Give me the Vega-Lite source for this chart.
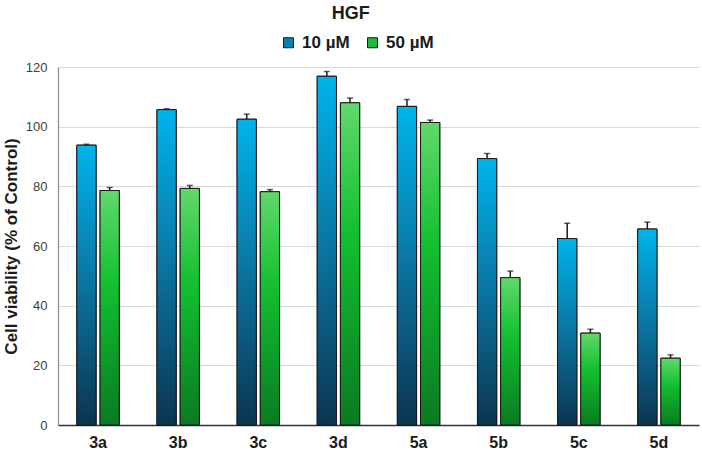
{
  "$schema": "https://vega.github.io/schema/vega-lite/v6.json",
  "width": 702,
  "height": 455,
  "autosize": {"type": "fit", "contains": "padding"},
  "padding": {"left": 2, "right": 3, "top": 5, "bottom": 5},
  "background": "white",
  "title": {
    "text": "HGF",
    "fontSize": 18,
    "fontWeight": "bold",
    "font": "Liberation Sans",
    "color": "#1a1a1a",
    "anchor": "middle",
    "frame": "bounds",
    "offset": 38
  },
  "config": {
    "view": {"stroke": null},
    "font": "Liberation Sans"
  },
  "data": {
    "values": [
      {"compound": "3a", "conc": "10 µM", "value": 93.8, "upper": 94.1},
      {"compound": "3a", "conc": "50 µM", "value": 78.6, "upper": 79.6},
      {"compound": "3b", "conc": "10 µM", "value": 105.7, "upper": 106.0},
      {"compound": "3b", "conc": "50 µM", "value": 79.3, "upper": 80.3},
      {"compound": "3c", "conc": "10 µM", "value": 102.5, "upper": 104.2},
      {"compound": "3c", "conc": "50 µM", "value": 78.2, "upper": 78.9},
      {"compound": "3d", "conc": "10 µM", "value": 116.9, "upper": 118.5},
      {"compound": "3d", "conc": "50 µM", "value": 108.0, "upper": 109.6},
      {"compound": "5a", "conc": "10 µM", "value": 106.8, "upper": 109.1},
      {"compound": "5a", "conc": "50 µM", "value": 101.4, "upper": 102.2},
      {"compound": "5b", "conc": "10 µM", "value": 89.3, "upper": 91.0},
      {"compound": "5b", "conc": "50 µM", "value": 49.4, "upper": 51.6},
      {"compound": "5c", "conc": "10 µM", "value": 62.5, "upper": 67.6},
      {"compound": "5c", "conc": "50 µM", "value": 30.8, "upper": 32.1},
      {"compound": "5d", "conc": "10 µM", "value": 65.7, "upper": 68.0},
      {"compound": "5d", "conc": "50 µM", "value": 22.4, "upper": 23.5}
    ]
  },
  "encoding": {
    "x": {
      "field": "compound",
      "type": "nominal",
      "sort": null,
      "scale": {"paddingInner": 0.47, "paddingOuter": 0.235},
      "axis": {
        "title": null,
        "labelAngle": 0,
        "labelFontSize": 16,
        "labelFontWeight": "bold",
        "labelColor": "#1a1a1a",
        "labelPadding": 9,
        "ticks": false,
        "domainColor": "#333333",
        "domainWidth": 1.5
      }
    },
    "xOffset": {
      "field": "conc",
      "type": "nominal",
      "scale": {"domain": ["10 µM", "50 µM"], "paddingInner": 0.17, "paddingOuter": 0}
    },
    "y": {
      "field": "value",
      "type": "quantitative",
      "scale": {"domain": [0, 120]},
      "axis": {
        "title": "Cell viability (% of Control)",
        "titleFontSize": 17,
        "titleFontWeight": "bold",
        "titleColor": "#1a1a1a",
        "titlePadding": 5,
        "values": [0, 20, 40, 60, 80, 100, 120],
        "labelFontSize": 13,
        "labelColor": "#404040",
        "labelPadding": 11,
        "ticks": false,
        "gridColor": "#d9d9d9",
        "gridWidth": 1,
        "domainColor": "#8c8c8c",
        "domainWidth": 1.2
      }
    }
  },
  "layer": [
    {
      "mark": {"type": "bar", "stroke": "#1a1a1a", "strokeWidth": 1},
      "encoding": {
        "fill": {
          "field": "conc",
          "type": "nominal",
          "scale": {"domain": ["10 µM", "50 µM"], "range": ["#0a80b0", "#22b840"]},
          "legend": {
            "title": null,
            "orient": "none",
            "direction": "horizontal",
            "legendX": 222,
            "legendY": -33,
            "symbolType": "square",
            "symbolSize": 100,
            "symbolStrokeColor": "#1a1a1a",
            "symbolStrokeWidth": 1,
            "symbolOpacity": 1,
            "labelFontSize": 17,
            "labelFontWeight": "bold",
            "labelColor": "#1a1a1a",
            "columnPadding": 14,
            "labelOffset": 5
          }
        }
      }
    },
    {
      "transform": [{"filter": "datum.conc === '10 µM'"}],
      "mark": {
        "type": "bar",
        "stroke": "#1a1a1a",
        "strokeWidth": 1,
        "color": {
          "gradient": "linear",
          "x1": 0, "y1": 0, "x2": 0, "y2": 1,
          "stops": [
            {"offset": 0, "color": "#00b4ec"},
            {"offset": 0.45, "color": "#0a7aa8"},
            {"offset": 1, "color": "#0b3550"}
          ]
        }
      }
    },
    {
      "transform": [{"filter": "datum.conc === '50 µM'"}],
      "mark": {
        "type": "bar",
        "stroke": "#1a1a1a",
        "strokeWidth": 1,
        "color": {
          "gradient": "linear",
          "x1": 0, "y1": 0, "x2": 0, "y2": 1,
          "stops": [
            {"offset": 0, "color": "#62d86c"},
            {"offset": 0.4, "color": "#12c030"},
            {"offset": 1, "color": "#0b7a22"}
          ]
        }
      }
    },
    {
      "mark": {"type": "rule", "color": "#1a1a1a", "strokeWidth": 1.5},
      "encoding": {
        "y2": {"field": "upper"}
      }
    },
    {
      "mark": {"type": "tick", "color": "#1a1a1a", "thickness": 1.5, "size": 6},
      "encoding": {
        "y": {"field": "upper", "type": "quantitative"}
      }
    }
  ]
}
